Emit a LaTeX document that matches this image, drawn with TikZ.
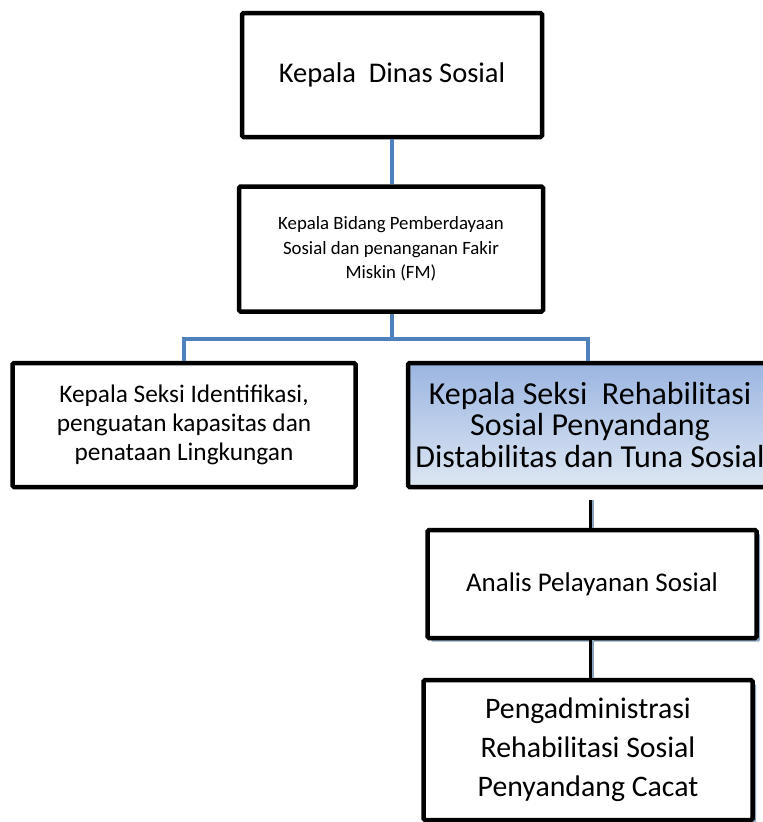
\documentclass[tikz,border=0pt]{standalone}
\usepackage{fontspec}
\setmainfont{Carlito}
\usepackage{tikz}
\usetikzlibrary{shadows}
\definecolor{garisbiru}{RGB}{79,129,189}
\definecolor{bayang}{RGB}{140,165,190}
\definecolor{birutua}{RGB}{155,181,225}
\definecolor{birumuda}{RGB}{221,231,243}

\begin{document}
\begin{tikzpicture}[x=1pt,y=-1pt]
\tikzstyle{kotak}=[draw=black,line width=4.5pt,rounded corners=1.5pt,fill=white,align=center,inner sep=0pt];
\tikzstyle{kotakbayang}=[kotak,drop shadow={shadow xshift=3.5pt,shadow yshift=-3.5pt,fill=bayang,opacity=1}];
\tikzstyle{garis}=[garisbiru,line width=4pt];
\tikzstyle{garishitam}=[black,line width=3pt];
\useasboundingbox (0,0) rectangle (763,822);
\node[kotak,minimum width=300pt,minimum height=124pt,font=\fontsize{28.5}{32}\selectfont] (kadis) at (392,75) {Kepala\ \ Dinas Sosial};
\node[kotak,minimum width=304pt,minimum height=125pt,font=\fontsize{18.8}{24.5}\selectfont] (kabid) at (391,249) {Kepala Bidang Pemberdayaan\\Sosial dan penanganan Fakir\\Miskin (FM)};
\node[kotak,minimum width=343pt,minimum height=124pt,font=\fontsize{25.3}{29}\selectfont] (seksiA) at (184,425) {Kepala Seksi Identifikasi,\\penguatan kapasitas dan\\penataan Lingkungan};
\node[kotak,shading=axis,top color=birutua,bottom color=birumuda,minimum width=364pt,minimum height=124pt,font=\fontsize{32}{31.5}\selectfont] (seksiB) at (590,425) {Kepala Seksi\ \ Rehabilitasi\\Sosial Penyandang\\Distabilitas dan Tuna Sosial};
\node[kotakbayang,minimum width=329pt,minimum height=108pt,font=\fontsize{27}{30}\selectfont] (analis) at (592,584) {Analis Pelayanan Sosial};
\node[kotakbayang,minimum width=329pt,minimum height=140pt,font=\fontsize{29.8}{39}\selectfont] (admin) at (588,750) {Pengadministrasi\\Rehabilitasi Sosial\\Penyandang Cacat};
\draw[garis] (kadis.south) -- (kadis.south |- kabid.north);
\draw[garis] (kadis.south |- kabid.south) -- ++(0,25) -| (seksiA.north);
\draw[garis] (kadis.south |- kabid.south) ++(0,25) -| ([xshift=-2pt]seksiB.north);
\draw[bayang,line width=3pt] ([xshift=2pt,yshift=-11pt]seksiB.south) -- ([xshift=2pt]seksiB.south |- analis.north);
\draw[garishitam,shorten <=11pt] (seksiB.south) -- (seksiB.south |- analis.north);
\draw[bayang,line width=3pt] ([xshift=2pt]seksiB.south |- analis.south) -- ([xshift=2pt]seksiB.south |- admin.north);
\draw[garishitam] (seksiB.south |- analis.south) -- (seksiB.south |- admin.north);
\end{tikzpicture}
\end{document}
